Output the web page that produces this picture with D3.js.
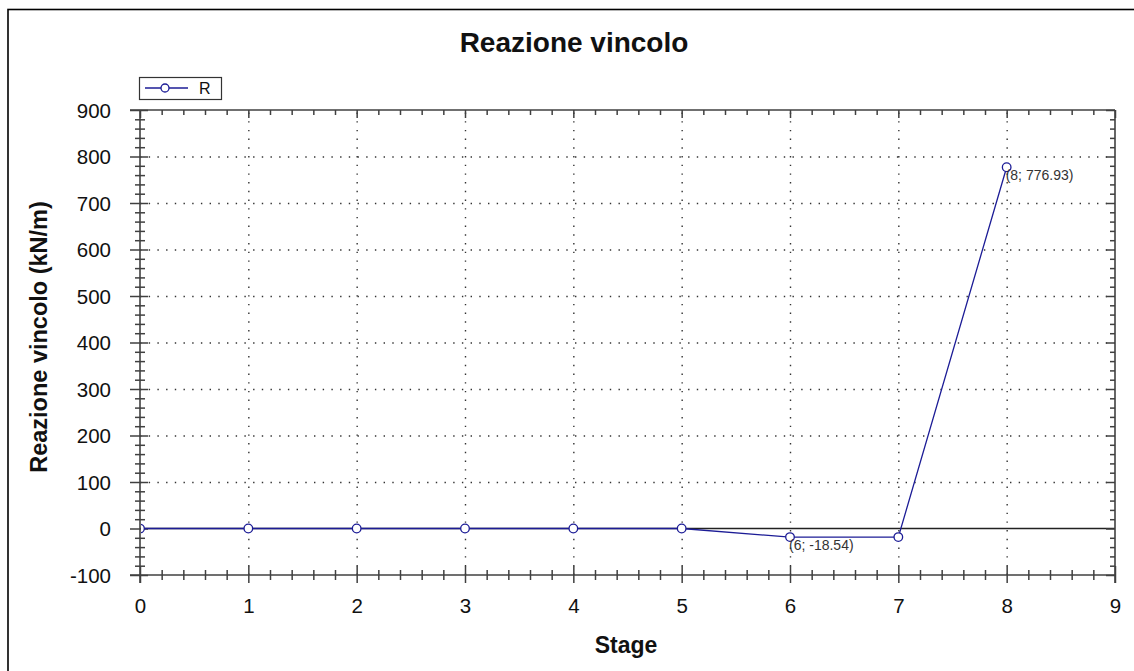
<!DOCTYPE html>
<html>
<head>
<meta charset="utf-8">
<script src="https://cdn.jsdelivr.net/npm/d3@7"></script>
<style>
  html, body { margin: 0; padding: 0; background: #fff; }
  svg { display: block; font-family: "Liberation Sans", Arial, sans-serif; }
</style>
</head>
<body>
<svg id="chart" width="1134" height="671"></svg>
<script>
// Reaction force per construction stage
const stages = [0, 1, 2, 3, 4, 5, 6, 7, 8];
const reaction = [0, 0, 0, 0, 0, 0, -18.54, -18.54, 776.93];
const labelledStages = [6, 8];

const xMajorTicks = [0, 1, 2, 3, 4, 5, 6, 7, 8, 9];
const yMajorTicks = [-100, 0, 100, 200, 300, 400, 500, 600, 700, 800, 900];

const chartTitle = "Reazione vincolo";
const xTitle = "Stage";
const yTitle = "Reazione vincolo (kN/m)";
const seriesName = "R";

const svg = d3.select("#chart");
const pLeft = 140, pRight = 1115, pTop = 110, pBottom = 575;
const axisColor = "#404040";
const seriesColor = "#1c1c96";

const x = d3.scaleLinear().domain([0, 9]).range([pLeft, pRight]);
const y = d3.scaleLinear().domain([-100, 900]).range([pBottom, pTop]);

const xMinor = d3.range(0, 9.001, 0.2).filter(v => Math.abs(v - Math.round(v)) > 1e-6);
const yMinor = d3.range(-100, 900.001, 20).filter(v => v % 100 !== 0);

// plain ASCII hyphen for negative numbers
const plain = d => String(d);

// frame around the whole chart
svg.append("rect")
  .attr("x", 8).attr("y", 9.5).attr("width", 1140).attr("height", 680)
  .attr("fill", "#fff").attr("stroke", "#000").attr("stroke-width", 1.6);

// dotted grid at major ticks
const grid = svg.append("g");
grid.append("g")
  .attr("transform", `translate(0,${pBottom})`)
  .call(d3.axisBottom(x).tickValues(xMajorTicks.slice(1, -1)).tickSize(-(pBottom - pTop)).tickFormat(""))
  .call(g => g.select(".domain").remove())
  .selectAll("line").attr("stroke", "#333").attr("stroke-width", 1.4).attr("stroke-dasharray", "1.4,7.3");
grid.append("g")
  .attr("transform", `translate(${pLeft},0)`)
  .call(d3.axisLeft(y).tickValues(yMajorTicks.slice(1, -1).filter(v => v !== 0)).tickSize(-(pRight - pLeft)).tickFormat(""))
  .call(g => g.select(".domain").remove())
  .selectAll("line").attr("stroke", "#333").attr("stroke-width", 1.4).attr("stroke-dasharray", "1.4,7.3");

// zero reference line
svg.append("line")
  .attr("x1", pLeft).attr("x2", pRight).attr("y1", y(0)).attr("y2", y(0))
  .attr("stroke", "#222").attr("stroke-width", 1.4);

// axis helper: ticks that cross the axis line
function styleAxis(g, inner, outer, dir) {
  g.select(".domain").remove();
  g.selectAll(".tick line")
    .attr("stroke", axisColor).attr("stroke-width", 1.5)
    .each(function () {
      const l = d3.select(this);
      if (dir === "v") { l.attr("y1", -inner).attr("y2", outer); }
      else { l.attr("x1", inner).attr("x2", -outer); }
    });
}

// bottom axis
const xAxisG = svg.append("g").attr("transform", `translate(0,${pBottom})`);
xAxisG.append("g")
  .call(d3.axisBottom(x).tickValues(xMinor).tickFormat(""))
  .call(g => styleAxis(g, 5, 5, "v"));
xAxisG.append("g")
  .call(d3.axisBottom(x).tickValues(xMajorTicks).tickFormat(plain))
  .call(g => styleAxis(g, 9, 8, "v"))
  .call(g => g.selectAll("text").attr("font-size", 20.5).attr("fill", "#111").attr("dy", "0.71em").attr("y", 23.5));

// left axis
const yAxisG = svg.append("g").attr("transform", `translate(${pLeft},0)`);
yAxisG.append("g")
  .call(d3.axisLeft(y).tickValues(yMinor).tickFormat(""))
  .call(g => styleAxis(g, 5, 5, "h"));
yAxisG.append("g")
  .call(d3.axisLeft(y).tickValues(yMajorTicks).tickFormat(plain))
  .call(g => styleAxis(g, 8, 10, "h"))
  .call(g => g.selectAll("text").attr("font-size", 20.5).attr("fill", "#111").attr("x", -29).attr("dy", "0.36em"));

// top axis, ticks pointing inward
const topG = svg.append("g").attr("transform", `translate(0,${pTop})`);
topG.append("g")
  .call(d3.axisTop(x).tickValues(xMinor).tickSize(-5).tickFormat(""))
  .call(g => g.select(".domain").remove())
  .selectAll("line").attr("stroke", axisColor).attr("stroke-width", 1.5);
topG.append("g")
  .call(d3.axisTop(x).tickValues(xMajorTicks).tickSize(-8).tickFormat(""))
  .call(g => g.select(".domain").remove())
  .selectAll("line").attr("stroke", axisColor).attr("stroke-width", 1.5);

// right axis, ticks pointing inward
const rightG = svg.append("g").attr("transform", `translate(${pRight},0)`);
rightG.append("g")
  .call(d3.axisRight(y).tickValues(yMinor).tickSize(-5).tickFormat(""))
  .call(g => g.select(".domain").remove())
  .selectAll("line").attr("stroke", axisColor).attr("stroke-width", 1.5);
rightG.append("g")
  .call(d3.axisRight(y).tickValues(yMajorTicks).tickSize(-9).tickFormat(""))
  .call(g => g.select(".domain").remove())
  .selectAll("line").attr("stroke", axisColor).attr("stroke-width", 1.5);

// plot border lines
const frame = svg.append("g").attr("stroke", axisColor).attr("stroke-width", 1.6);
frame.append("line").attr("x1", 130).attr("x2", pRight).attr("y1", pTop).attr("y2", pTop);
frame.append("line").attr("x1", 130).attr("x2", pRight).attr("y1", pBottom).attr("y2", pBottom);
frame.append("line").attr("x1", pLeft).attr("x2", pLeft).attr("y1", pTop).attr("y2", pBottom + 8);
frame.append("line").attr("x1", pRight).attr("x2", pRight).attr("y1", pTop).attr("y2", pBottom + 8);

// series
svg.append("defs").append("clipPath").attr("id", "plotClip")
  .append("rect").attr("x", pLeft + 1).attr("y", pTop).attr("width", pRight - pLeft - 1).attr("height", pBottom - pTop);

const data = stages.map((s, i) => ({ s, v: reaction[i] }));
const series = svg.append("g").attr("clip-path", "url(#plotClip)");
series.append("path")
  .datum(data)
  .attr("fill", "none").attr("stroke", seriesColor).attr("stroke-width", 1.3)
  .attr("d", d3.line().x(d => x(d.s)).y(d => y(d.v)));
series.selectAll("circle")
  .data(data).join("circle")
  .attr("cx", d => x(d.s)).attr("cy", d => y(d.v)).attr("r", 4.3)
  .attr("fill", "#fff").attr("stroke", seriesColor).attr("stroke-width", 1.3);

// value labels
svg.append("g").selectAll("text")
  .data(data.filter(d => labelledStages.includes(d.s)))
  .join("text")
  .attr("x", d => x(d.s) - 1).attr("y", d => y(d.v) + 13)
  .attr("font-size", 14).attr("fill", "#333")
  .text(d => `(${d.s}; ${d.v.toFixed(2)})`);

// legend
const lg = svg.append("g");
lg.append("rect").attr("x", 139.5).attr("y", 77.5).attr("width", 82).attr("height", 22)
  .attr("fill", "#fff").attr("stroke", "#333").attr("stroke-width", 1.2);
lg.append("line").attr("x1", 145).attr("x2", 188).attr("y1", 88).attr("y2", 88)
  .attr("stroke", seriesColor).attr("stroke-width", 1.3);
lg.append("circle").attr("cx", 165).attr("cy", 88).attr("r", 4)
  .attr("fill", "#fff").attr("stroke", seriesColor).attr("stroke-width", 1.3);
lg.append("text").attr("x", 199).attr("y", 94).attr("font-size", 16).attr("fill", "#111").text(seriesName);

// titles
svg.append("text").attr("x", 574).attr("y", 52).attr("text-anchor", "middle")
  .attr("font-size", 28).attr("font-weight", "bold").attr("fill", "#111").text(chartTitle);
svg.append("text").attr("x", 626).attr("y", 653).attr("text-anchor", "middle")
  .attr("font-size", 23).attr("font-weight", "bold").attr("fill", "#111").text(xTitle);
svg.append("text").attr("transform", "translate(47,337) rotate(-90)").attr("text-anchor", "middle")
  .attr("font-size", 23.5).attr("font-weight", "bold").attr("fill", "#111").text(yTitle);
</script>
</body>
</html>
